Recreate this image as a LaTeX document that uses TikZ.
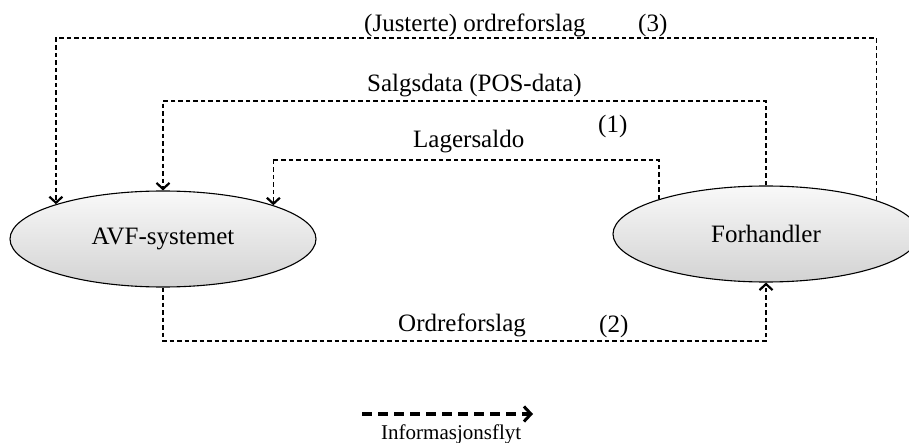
\documentclass[tikz,border=0pt]{standalone}
\usepackage{fontspec}
\setmainfont{Liberation Serif}
\usetikzlibrary{arrows.meta,shapes.geometric}

\tikzset{
  actor/.style={ellipse, draw=black, line width=1.1pt, inner sep=0pt,
    minimum width=306pt, minimum height=96pt,
    top color=gray!5, bottom color=gray!35,
    font=\fontsize{25}{30}\selectfont},
  flow/.style={draw=black, line width=1.5pt, dash pattern=on 4.5pt off 3pt,
    -{Straight Barb[length=6pt,width=13pt,line width=2.2pt]}},
  lbl/.style={anchor=base west, inner sep=0pt, font=\fontsize{25}{30}\selectfont},
  legendarrow/.style={draw=black, line width=3.6pt, dash pattern=on 10pt off 6pt,
    -{Straight Barb[length=7pt,width=15pt,line width=3pt]}},
}

\begin{document}
\begin{tikzpicture}[x=1pt, y=-1pt]
  \useasboundingbox (0,0) rectangle (909,443);

  % the two parties
  \node[actor] (avf) at (163,239) {AVF-systemet};
  \node[actor] (fh)  at (766,234) {Forhandler};

  % corner points of the routed flows
  \coordinate (k3) at (56,38);
  \coordinate (k1) at (163,101);
  \coordinate (kl) at (272,160);
  \coordinate (k2) at (766,341);

  % (3) adjusted order proposals
  \draw[flow] (fh.17.2) |- (k3) -| (avf.162.2);
  % sales data
  \draw[flow] (fh.north) |- (k1) -| (avf.north);
  % stock balance
  \draw[flow] (fh.162.5) |- (kl) -| (avf.17.2);
  % (2) order proposals
  \draw[flow] (avf.south) |- (k2) -| (fh.south);

  % labels
  \node[lbl] (t3)  at (364,32)  {(Justerte) ordreforslag};
  \node[lbl] (n3)  at (638,32)  {(3)};
  \node[lbl] (ts)  at (367,92)  {Salgsdata (POS-data)};
  \node[lbl] (n1)  at (598,133) {(1)};
  \node[lbl] (tl)  at (413,148) {Lagersaldo};
  \node[lbl] (t2)  at (398,331) {Ordreforslag};
  \node[lbl] (n2)  at (599,332) {(2)};

  % legend
  \coordinate (la) at (362,414);
  \coordinate (lb) at (533,414);
  \draw[legendarrow] (la) -- (lb);
  \node[anchor=base west, inner sep=0pt, font=\fontsize{21}{25}\selectfont]
    (lt) at (381,439) {Informasjonsflyt};
\end{tikzpicture}
\end{document}
